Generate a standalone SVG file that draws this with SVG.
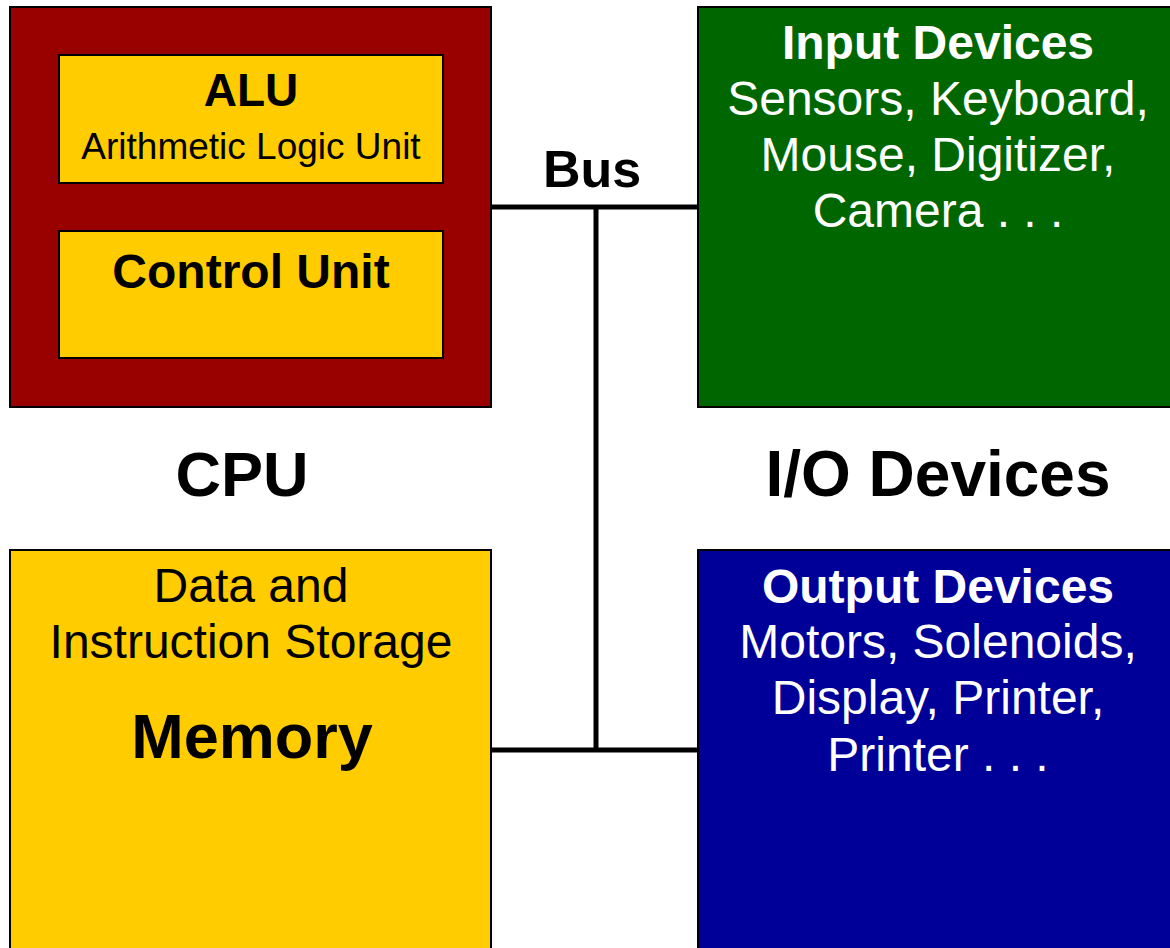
<svg xmlns="http://www.w3.org/2000/svg" width="1170" height="948" viewBox="0 0 1170 948">
<style>
.box{stroke:#000;stroke-width:2}
text{font-family:"Liberation Sans",Arial,sans-serif;text-anchor:middle}
.b{font-weight:bold}
.w{fill:#fff}
.k{fill:#000}
.bus{stroke:#000;stroke-width:5;fill:none}
</style>
<rect width="1170" height="948" fill="#fff"/>
<g id="connectors">
<line class="bus" x1="491" y1="207" x2="698" y2="207"/>
<line class="bus" x1="491" y1="750" x2="698" y2="750"/>
<line class="bus" x1="596" y1="207" x2="596" y2="750"/>
<text class="b k" x="592" y="187" font-size="52">Bus</text>
</g>
<g id="cpu">
<rect class="box" x="10" y="7" width="481" height="400" fill="#990000"/>
<text class="b k" x="242" y="496" font-size="63">CPU</text>
</g>
<g id="alu">
<rect class="box" x="59" y="55" width="384" height="128" fill="#FFCC00"/>
<text class="b k" x="251" y="106" font-size="46">ALU</text>
<text class="k" x="251" y="159" font-size="37">Arithmetic Logic Unit</text>
</g>
<g id="control">
<rect class="box" x="59" y="231" width="384" height="127" fill="#FFCC00"/>
<text class="b k" x="251" y="288" font-size="48">Control Unit</text>
</g>
<g id="input">
<rect class="box" x="698" y="7" width="480" height="400" fill="#006600"/>
<text class="b w" x="938" y="59" font-size="48">Input Devices</text>
<text class="w" x="938" y="115" font-size="48">Sensors, Keyboard,</text>
<text class="w" x="938" y="171" font-size="48">Mouse, Digitizer,</text>
<text class="w" x="938" y="227" font-size="48">Camera . . .</text>
</g>
<g id="io-label">
<text class="b k" x="938" y="496" font-size="64">I/O Devices</text>
</g>
<g id="memory">
<rect class="box" x="10" y="550" width="481" height="410" fill="#FFCC00"/>
<text class="k" x="251" y="602" font-size="48">Data and</text>
<text class="k" x="251" y="658" font-size="48">Instruction Storage</text>
<text class="b k" x="252" y="758" font-size="63">Memory</text>
</g>
<g id="output">
<rect class="box" x="698" y="550" width="480" height="410" fill="#000099"/>
<text class="b w" x="938" y="603" font-size="48">Output Devices</text>
<text class="w" x="938" y="658" font-size="48">Motors, Solenoids,</text>
<text class="w" x="938" y="714" font-size="48">Display, Printer,</text>
<text class="w" x="938" y="771" font-size="48">Printer . . .</text>
</g>
</svg>
